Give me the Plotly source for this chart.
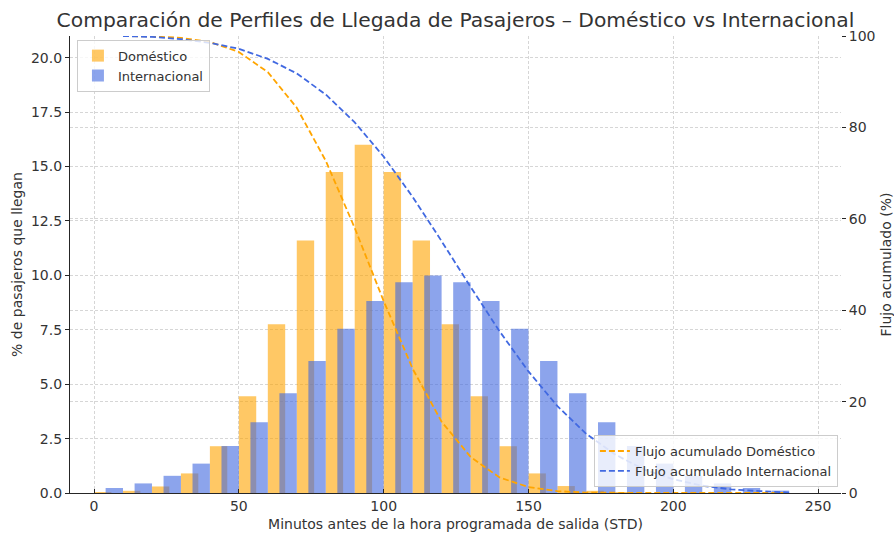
import plotly.graph_objects as go

# ---- data ----
bin_centers = [5, 15, 25, 35, 45, 55, 65, 75, 85, 95, 105, 115,
               125, 135, 145, 155, 165, 175, 185, 195, 205, 215, 225, 235]
domestico = [0.02, 0.10, 0.30, 0.90, 2.15, 4.45, 7.75, 11.6, 14.75, 16.0, 14.75, 11.6,
             7.75, 4.45, 2.15, 0.90, 0.32, 0.10, 0.03, 0.0, 0.0, 0.0, 0.0, 0.0]
internacional = [0.23, 0.44, 0.79, 1.35, 2.16, 3.25, 4.58, 6.07, 7.55, 8.82, 9.69, 10.0,
                 9.69, 8.82, 7.55, 6.07, 4.58, 3.25, 2.16, 1.35, 0.79, 0.44, 0.23, 0.11]

curve_x = [10, 20, 30, 40, 50, 60, 70, 80, 90, 100, 110, 120,
           130, 140, 150, 160, 170, 180, 190, 200, 210, 220, 230, 240]
flujo_dom = [100.0, 99.9, 99.6, 98.7, 96.5, 92.1, 84.3, 72.7, 58.0, 42.0, 27.2, 15.6,
             7.9, 3.4, 1.3, 0.4, 0.1, 0.0, 0.0, 0.0, 0.0, 0.0, 0.0, 0.0]
flujo_int = [100.0, 99.8, 99.3, 98.5, 97.2, 95.0, 91.8, 87.2, 81.1, 73.6, 64.8, 55.1,
             45.1, 35.4, 26.6, 19.0, 12.9, 8.4, 5.1, 3.0, 1.6, 0.8, 0.4, 0.1]

left_ticks = [0, 2.5, 5, 7.5, 10, 12.5, 15, 17.5, 20]
right_ticks = [0, 20, 40, 60, 80, 100]
x_ticks = [0, 50, 100, 150, 200, 250]

# ---- styling ----
FONT = "DejaVu Sans"
TXT = "#333333"
ORANGE = "#FFA500"
BLUE = "#4169E1"
LEFT_MAX = 21.0
RIGHT_MAX = 100.0
bar_w = 6
offset = 2

fig = go.Figure()
fig.add_trace(go.Bar(
    x=[c - offset for c in bin_centers], y=domestico, width=bar_w,
    marker=dict(color=ORANGE, line=dict(width=0)), opacity=0.6,
    name="Doméstico", legend="legend"))
fig.add_trace(go.Bar(
    x=[c + offset for c in bin_centers], y=internacional, width=bar_w,
    marker=dict(color=BLUE, line=dict(width=0)), opacity=0.6,
    name="Internacional", legend="legend"))
fig.add_trace(go.Scatter(
    x=curve_x, y=flujo_dom, mode="lines", yaxis="y2",
    line=dict(color=ORANGE, width=1.8, dash="6px,3px"),
    name="Flujo acumulado Doméstico", legend="legend2"))
fig.add_trace(go.Scatter(
    x=curve_x, y=flujo_int, mode="lines", yaxis="y2",
    line=dict(color=BLUE, width=1.8, dash="6px,3px"),
    name="Flujo acumulado Internacional", legend="legend2"))

grid = dict(gridcolor="#d6d6d6", gridwidth=1, griddash="3px,2px")

fig.update_layout(
    width=894, height=533,
    margin=dict(l=70, r=53, t=36, b=40, autoexpand=False),
    paper_bgcolor="white", plot_bgcolor="white",
    font=dict(family=FONT, size=14, color=TXT),
    barmode="overlay",
    title=dict(text="Comparación de Perfiles de Llegada de Pasajeros – Doméstico vs Internacional",
               x=0.5095, xanchor="center", y=1 - 20 / 533, yanchor="middle",
               yref="container", automargin=False,
               font=dict(size=20.3, color=TXT)),
    xaxis=dict(range=[-8.3, 257.9], tickvals=x_ticks, showgrid=True, **grid,
               zeroline=False, showline=True, linecolor="#262626", linewidth=1.3,
               ticks="inside", ticklen=4, tickcolor="#262626", automargin=False,
               tickfont=dict(size=14, color=TXT),
               title=dict(text="Minutos antes de la hora programada de salida (STD)",
                          font=dict(size=14, color=TXT), standoff=6)),
    yaxis=dict(range=[0, LEFT_MAX], tickvals=left_ticks,
               ticktext=[f"{v:.1f}" for v in left_ticks],
               showgrid=True, **grid, zeroline=False, automargin=False,
               showline=True, linecolor="#262626", linewidth=1.3,
               ticks="outside", ticklen=4, tickcolor="#262626",
               tickfont=dict(size=14, color=TXT),
               minor=dict(tickvals=[v * LEFT_MAX / RIGHT_MAX for v in right_ticks[1:-1]],
                          showgrid=True, gridcolor="#d6d6d6", gridwidth=1,
                          griddash="3px,2px", ticklen=0),
               title=dict(text="% de pasajeros que llegan",
                          font=dict(size=14, color=TXT), standoff=4)),
    yaxis2=dict(range=[0, RIGHT_MAX], tickvals=right_ticks, overlaying="y", side="right",
                showgrid=False, zeroline=False, showline=False, automargin=False,
                ticks="outside", ticklen=4, tickcolor="#262626",
                tickfont=dict(size=14, color=TXT),
                title=dict(text="Flujo acumulado (%)", font=dict(size=14, color=TXT),
                           standoff=10)),
    legend=dict(x=0.009, y=0.992, xanchor="left", yanchor="top",
                bgcolor="rgba(255,255,255,0.8)", bordercolor="#cccccc", borderwidth=1,
                font=dict(size=13, color=TXT), tracegroupgap=0),
    legend2=dict(x=0.996, y=0.013, xanchor="right", yanchor="bottom",
                 bgcolor="rgba(255,255,255,0.8)", bordercolor="#cccccc", borderwidth=1,
                 font=dict(size=13, color=TXT)),
)

fig.write_html("out.html", config={"displayModeBar": False},
               post_script="document.body.style.margin='0';document.body.style.padding='0';")
